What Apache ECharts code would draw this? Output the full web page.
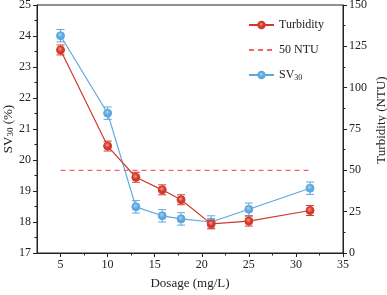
<!DOCTYPE html>
<html><head><meta charset="utf-8">
<script src="https://cdn.jsdelivr.net/npm/echarts@6/dist/echarts.min.js"></script>
<style>html,body{margin:0;padding:0;background:#fff}#c{width:387px;height:295px}</style>
</head><body><div id="c"></div>
<script>
const dosage = [5, 10, 13, 15.8, 17.8, 21, 25, 31.5];
const sv30 = [24.01, 21.51, 18.49, 18.2, 18.1, 18.0, 18.41, 19.09];
const sv30Err = [0.2, 0.2, 0.2, 0.2, 0.2, 0.2, 0.2, 0.2];
const turbidity = [122.8, 64.7, 45.8, 38.2, 32.2, 17.6, 19.3, 25.7];
const turbErr = [3, 3, 3, 3, 3, 3, 3, 3];
const limitX = [5, 31.5];
const limitY = 50;
const xMajorTicks = [5, 10, 15, 20, 25, 30, 35];
const xMinorTicks = [7.5, 12.5, 17.5, 22.5, 27.5, 32.5];

const FONT = 'Liberation Serif';
const RED = '#d2392b', BLUE = '#5ea8de', DASH = '#f26464';
const txt = {fontFamily: FONT, fontSize: 12, color: '#222'};

function errSeries(name, yIdx, vals, errs, color) {
  return {
    type: 'custom', name: name, yAxisIndex: yIdx, z: 3,
    data: dosage.map((x, i) => [x, vals[i], errs[i]]),
    renderItem: function (params, api) {
      const x = api.value(0), y = api.value(1), e = api.value(2);
      const hi = api.coord([x, y + e]), lo = api.coord([x, y - e]);
      const w = 4;
      const st = {stroke: color, lineWidth: 1};
      return {type: 'group', children: [
        {type: 'line', shape: {x1: hi[0], y1: hi[1], x2: lo[0], y2: lo[1]}, style: st},
        {type: 'line', shape: {x1: hi[0]-w, y1: hi[1], x2: hi[0]+w, y2: hi[1]}, style: st},
        {type: 'line', shape: {x1: lo[0]-w, y1: lo[1], x2: lo[0]+w, y2: lo[1]}, style: st}
      ]};
    }
  };
}
function ball(c, hl) {
  return {type: 'radial', x: 0.45, y: 0.4, r: 0.6,
    colorStops: [{offset: 0, color: hl}, {offset: 0.5, color: c}, {offset: 1, color: c}]};
}

const chart = echarts.init(document.getElementById('c'), null, {renderer: 'canvas'});
chart.setOption({
  animation: false,
  grid: {left: 37, right: 44, top: 5, bottom: 42, show: true, borderColor: '#222', borderWidth: 1,
         containLabel: false, outerBoundsMode: 'none'},
  legend: {
    orient: 'vertical', left: 248, top: 19, padding: 0, itemWidth: 25, itemHeight: 8, itemGap: 13,
    data: ['Turbidity', {name: '50 NTU', itemStyle: {opacity: 0}}, 'SV30'],
    textStyle: {fontFamily: FONT, fontSize: 12, color: '#222',
      rich: {sub: {fontFamily: FONT, fontSize: 8, color: '#222', padding: [6, 0, 0, 0]},
             n: {fontFamily: FONT, fontSize: 12, color: '#222'}}},
    formatter: n => n === 'SV30' ? '{n|SV}{sub|30}' : n
  },
  xAxis: [{
    type: 'value', min: 2.5, max: 35, interval: 2.5, position: 'bottom',
    name: 'Dosage (mg/L)', nameLocation: 'middle', nameGap: 24, nameMoveOverlap: false,
    nameTextStyle: {fontFamily: FONT, fontSize: 13, color: '#222'},
    axisLine: {show: true, lineStyle: {color: '#222'}},
    axisTick: {show: true, length: 4, customValues: xMajorTicks, lineStyle: {color: '#222'}},
    axisLabel: Object.assign({customValues: xMajorTicks, margin: 6}, txt),
    splitLine: {show: false}
  }, {
    type: 'value', min: 2.5, max: 35, interval: 2.5, position: 'bottom',
    axisLine: {show: false},
    axisTick: {show: true, length: 2.5, customValues: xMinorTicks, lineStyle: {color: '#222'}},
    axisLabel: {show: false}, splitLine: {show: false}
  }],
  yAxis: [{
    type: 'value', min: 17, max: 25, interval: 1, position: 'left',
    name: '{n|SV}{s|30}{n| (%)}', nameLocation: 'middle', nameGap: 22, nameRotate: 90,
    nameMoveOverlap: false,
    nameTextStyle: {rich: {n: {fontFamily: FONT, fontSize: 13, color: '#222'},
                           s: {fontFamily: FONT, fontSize: 9, color: '#222', padding: [0, 0, -5, 0]}}},
    axisLine: {show: true, lineStyle: {color: '#222'}},
    axisTick: {show: true, length: 4, lineStyle: {color: '#222'}},
    minorTick: {show: true, splitNumber: 2, length: 2.5, lineStyle: {color: '#222'}},
    axisLabel: Object.assign({margin: 6}, txt),
    splitLine: {show: false}, minorSplitLine: {show: false}
  }, {
    type: 'value', min: 0, max: 150, interval: 25, position: 'right',
    name: 'Turbidity (NTU)', nameLocation: 'middle', nameGap: 32, nameRotate: 90,
    nameMoveOverlap: false,
    nameTextStyle: {fontFamily: FONT, fontSize: 13, color: '#222', padding: [0, 0, 0, 18]},
    axisLine: {show: true, lineStyle: {color: '#222'}},
    axisTick: {show: true, length: 4, lineStyle: {color: '#222'}},
    minorTick: {show: true, splitNumber: 2, length: 2.5, lineStyle: {color: '#222'}},
    axisLabel: Object.assign({margin: 6}, txt),
    splitLine: {show: false}, minorSplitLine: {show: false}
  }],
  series: [
    errSeries('sverr', 0, sv30, sv30Err, BLUE),
    {
      name: 'SV30', type: 'line', yAxisIndex: 0, z: 4,
      data: dosage.map((x, i) => [x, sv30[i]]),
      symbol: 'circle', symbolSize: 8,
      lineStyle: {color: BLUE, width: 1.2},
      itemStyle: {color: ball(BLUE, '#a9d3f2'), borderColor: BLUE, borderWidth: 1}
    },
    {
      name: '50 NTU', type: 'line', yAxisIndex: 1, z: 2,
      data: limitX.map(x => [x, limitY]),
      symbol: 'none', lineStyle: {color: DASH, width: 1.2, type: [5, 4]},
      itemStyle: {color: DASH}
    },
    errSeries('turberr', 1, turbidity, turbErr, RED),
    {
      name: 'Turbidity', type: 'line', yAxisIndex: 1, z: 5,
      data: dosage.map((x, i) => [x, turbidity[i]]),
      symbol: 'circle', symbolSize: 8,
      lineStyle: {color: RED, width: 1.2},
      itemStyle: {color: ball(RED, '#f0a090'), borderColor: RED, borderWidth: 1}
    }
  ]
});
</script></body></html>
